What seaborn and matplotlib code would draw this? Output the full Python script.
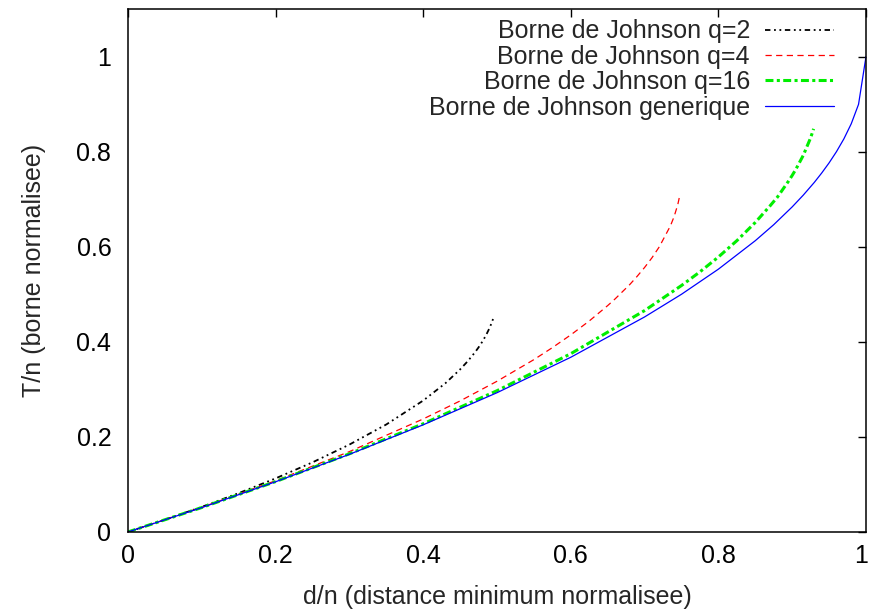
import numpy as np
import pandas as pd
import matplotlib
matplotlib.use("Agg")
import matplotlib.pyplot as plt
import matplotlib.transforms as mtransforms
from matplotlib.ticker import FuncFormatter
import seaborn as sns

# values (d/n, T/n)
x_q2 = [0.0, 0.05, 0.1, 0.15, 0.2, 0.25, 0.3, 0.35, 0.4, 0.43, 0.45, 0.46, 0.47, 0.475,
        0.48, 0.485, 0.49, 0.493, 0.495]
y_q2 = [0.0, 0.0257, 0.0528, 0.0817, 0.1127, 0.1464, 0.1838, 0.2261, 0.2764, 0.3127,
        0.3419, 0.3586, 0.3775, 0.3882, 0.4000, 0.4134, 0.4293, 0.4408, 0.4495]

x_q4 = [0.0, 0.1, 0.2, 0.3, 0.4, 0.45, 0.5, 0.55, 0.575, 0.6, 0.625, 0.65, 0.66, 0.68,
        0.69, 0.7, 0.71, 0.72, 0.735, 0.74, 0.745, 0.7475]
y_q4 = [0.0, 0.0518, 0.1078, 0.169, 0.2377, 0.2756, 0.317, 0.3625, 0.3877, 0.4146,
        0.4438, 0.4762, 0.4902, 0.5206, 0.5379, 0.5564, 0.5768, 0.60, 0.6439, 0.6634,
        0.6888, 0.7067]

x_q16 = [0.0, 0.1, 0.2, 0.3, 0.4, 0.5, 0.6, 0.7, 0.75, 0.775, 0.8, 0.825, 0.85, 0.87,
         0.88, 0.895, 0.9, 0.905, 0.915, 0.925, 0.929]
y_q16 = [0.0, 0.0514, 0.106, 0.1644, 0.2276, 0.2971, 0.375, 0.4657, 0.5184, 0.5472,
         0.5784, 0.6127, 0.6511, 0.6860, 0.7044, 0.7379, 0.75, 0.763, 0.7922, 0.8292,
         0.848]

x_gen = [0.0, 0.1, 0.2, 0.3, 0.4, 0.5, 0.6, 0.7, 0.75, 0.8, 0.85, 0.875, 0.9, 0.915,
         0.93, 0.94, 0.95, 0.96, 0.97, 0.98, 0.9899, 1.0]
y_gen = [0.0, 0.0513, 0.1056, 0.1633, 0.2254, 0.2929, 0.3675, 0.4523, 0.5, 0.5528,
         0.6127, 0.6464, 0.6838, 0.7085, 0.7354, 0.7551, 0.7764, 0.8, 0.8268, 0.8586,
         0.8995, 1.0]

labels = ["Borne de Johnson q=2", "Borne de Johnson q=4",
          "Borne de Johnson q=16", "Borne de Johnson generique"]

sns.set_style("white")
plt.rcParams['font.family'] = ['Liberation Sans', 'DejaVu Sans']
fs = 18

fig = plt.figure(figsize=(8.7, 6.14), dpi=100)
ax = fig.add_axes([0.1471, 0.1336, 0.9954 - 0.1471, 0.9853 - 0.1336])

sns.lineplot(x=x_q2, y=y_q2, ax=ax, color="black", lw=1.3,
             linestyle=(0, (3, 2, 1, 2, 1, 2)), label=labels[0], sort=False)
sns.lineplot(x=x_q4, y=y_q4, ax=ax, color="red", lw=0.9,
             linestyle=(0, (5, 3.5)), label=labels[1], sort=False)
sns.lineplot(x=x_q16, y=y_q16, ax=ax, color="#00ee00", lw=2.2,
             linestyle=(0, (2.6, 1.1, 1.0, 1.1)), label=labels[2], sort=False)
sns.lineplot(x=x_gen, y=y_gen, ax=ax, color="blue", lw=0.9,
             linestyle="-", label=labels[3], sort=False)

ax.set_xlim(0, 1)
ax.set_ylim(0, 1.1)
ax.set_xticks([0, 0.2, 0.4, 0.6, 0.8, 1.0])
ax.set_yticks([0, 0.2, 0.4, 0.6, 0.8, 1.0])
fmt = FuncFormatter(lambda v, p: "%g" % v)
ax.xaxis.set_major_formatter(fmt)
ax.yaxis.set_major_formatter(fmt)
ax.tick_params(direction="in", length=6, width=1, top=True, right=True,
               labelsize=fs, colors="black")
ax.tick_params(axis="x", pad=9)
ax.tick_params(axis="y", pad=12)
for s in ax.spines.values():
    s.set_color("black")
    s.set_linewidth(1.1)

# keep the last x tick label inside the canvas
last = ax.get_xticklabels()[-1]
last.set_transform(last.get_transform() +
                   mtransforms.ScaledTranslation(-5 / 100, 0, fig.dpi_scale_trans))

ax.set_xlabel("d/n (distance minimum normalisee)", fontsize=fs, labelpad=12)
ax.set_ylabel("T/n (borne normalisee)", fontsize=fs, labelpad=22)

ax.legend(loc="upper right", bbox_to_anchor=(0.9566, 0.980), markerfirst=False,
          frameon=False, fontsize=fs, handlelength=2.76, handletextpad=0.6,
          labelspacing=0.055, borderpad=0.0, borderaxespad=0.0)

fig.savefig("out.png", dpi=100)
